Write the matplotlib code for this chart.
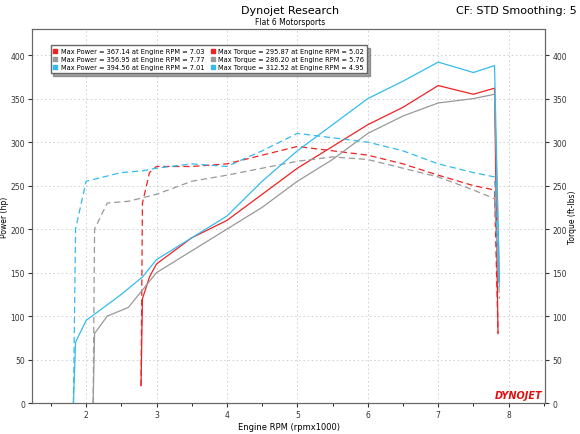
import matplotlib
matplotlib.use("Agg")
import matplotlib.pyplot as plt
from matplotlib.ticker import MultipleLocator

red_rpm = [2.78, 2.8, 2.9, 3.0, 3.5, 4.0, 4.5, 5.0, 5.5, 6.0, 6.5, 7.0, 7.5, 7.8, 7.85]
red_pow = [20, 120, 145, 160, 190, 210, 240, 270, 295, 320, 340, 365, 355, 362, 80]
red_tq = [20, 230, 265, 272, 272, 275, 285, 295, 290, 285, 275, 262, 250, 245, 80]
gray_rpm = [2.1, 2.12, 2.3, 2.6, 2.8, 3.0, 3.5, 4.0, 4.5, 5.0, 5.5, 6.0, 6.5, 7.0, 7.5, 7.8, 7.87]
gray_pow = [0, 80, 100, 110, 130, 150, 175, 200, 225, 255, 280, 310, 330, 345, 350, 355, 140]
gray_tq = [0, 200, 230, 232, 236, 240, 255, 262, 270, 278, 283, 280, 270, 260, 245, 235, 120]
blue_rpm = [1.82, 1.85, 2.0, 2.5, 2.8, 3.0, 3.5, 4.0, 4.5, 5.0, 5.5, 6.0, 6.5, 7.0, 7.5, 7.8, 7.87]
blue_pow = [0, 70, 95, 125, 145, 165, 190, 215, 255, 290, 320, 350, 370, 392, 380, 388, 140]
blue_tq = [0, 200, 255, 265, 267, 270, 275, 272, 290, 310, 305, 300, 290, 275, 265, 260, 130]

legend_pow = ["Max Power = 367.14 at Engine RPM = 7.03",
              "Max Power = 356.95 at Engine RPM = 7.77",
              "Max Power = 394.56 at Engine RPM = 7.01"]
legend_tq = ["Max Torque = 295.87 at Engine RPM = 5.02",
             "Max Torque = 286.20 at Engine RPM = 5.76",
             "Max Torque = 312.52 at Engine RPM = 4.95"]

colors = ["#ee2222", "#999999", "#33bbee"]

fig = plt.figure(figsize=(5.8, 4.35), dpi=100)
ax = fig.add_axes([0.055, 0.071, 0.885, 0.86])
runs = [(red_rpm, red_pow, red_tq), (gray_rpm, gray_pow, gray_tq), (blue_rpm, blue_pow, blue_tq)]
for (r, p, t), c in zip(runs, colors):
    ax.plot(r, p, color=c, lw=0.9)
    ax.plot(r, t, color=c, lw=0.9, ls=(0, (5, 3)))

ax.set_xlim(1.23, 8.52)
ax.set_ylim(0, 430)
ax.xaxis.set_major_locator(MultipleLocator(1))
ax.xaxis.set_minor_locator(MultipleLocator(0.5))
ax.yaxis.set_major_locator(MultipleLocator(50))
ax.grid(True, which="major", color="#cccccc", ls=(0, (2, 3)), lw=0.6)
ax.tick_params(labelsize=5.5, length=3, pad=2, colors="#333333")
ax.set_xlabel("Engine RPM (rpmx1000)", fontsize=6, labelpad=2)
ax.set_ylabel("Power (hp)", fontsize=5.5, labelpad=1)
ax2 = ax.twinx()
ax2.set_ylim(0, 430)
ax2.yaxis.set_major_locator(MultipleLocator(50))
ax2.tick_params(labelsize=5.5, length=3, pad=2, colors="#333333")
ax2.set_ylabel("Torque (ft-lbs)", fontsize=5.5, labelpad=1)
for a in (ax, ax2):
    for s in a.spines.values():
        s.set_color("#666666")

handles = []
labels = []
for i in range(3):
    handles += [plt.Rectangle((0, 0), 1, 1, color=colors[i])]
    labels += [legend_pow[i]]
for i in range(3):
    handles += [plt.Rectangle((0, 0), 1, 1, color=colors[i])]
    labels += [legend_tq[i]]
ax.legend(handles, labels, ncol=2, loc="upper left", bbox_to_anchor=(0.03, 0.965),
          fontsize=4.8, handlelength=0.6, handleheight=0.6, fancybox=False,
          shadow=True, framealpha=1, edgecolor="#666666", borderpad=0.4,
          labelspacing=0.3, columnspacing=1.0, handletextpad=0.5)

fig.text(0.5, 0.975, "Dynojet Research", ha="center", va="center", fontsize=8)
fig.text(0.5, 0.948, "Flat 6 Motorsports", ha="center", va="center", fontsize=5.5)
fig.text(0.995, 0.975, "CF: STD Smoothing: 5", ha="right", va="center", fontsize=8)
ax.text(0.995, 0.008, "DYNOJET", transform=ax.transAxes, ha="right", va="bottom",
        fontsize=7, fontweight="bold", style="italic", color="#dd1111")

fig.savefig("out.png", dpi=100)
